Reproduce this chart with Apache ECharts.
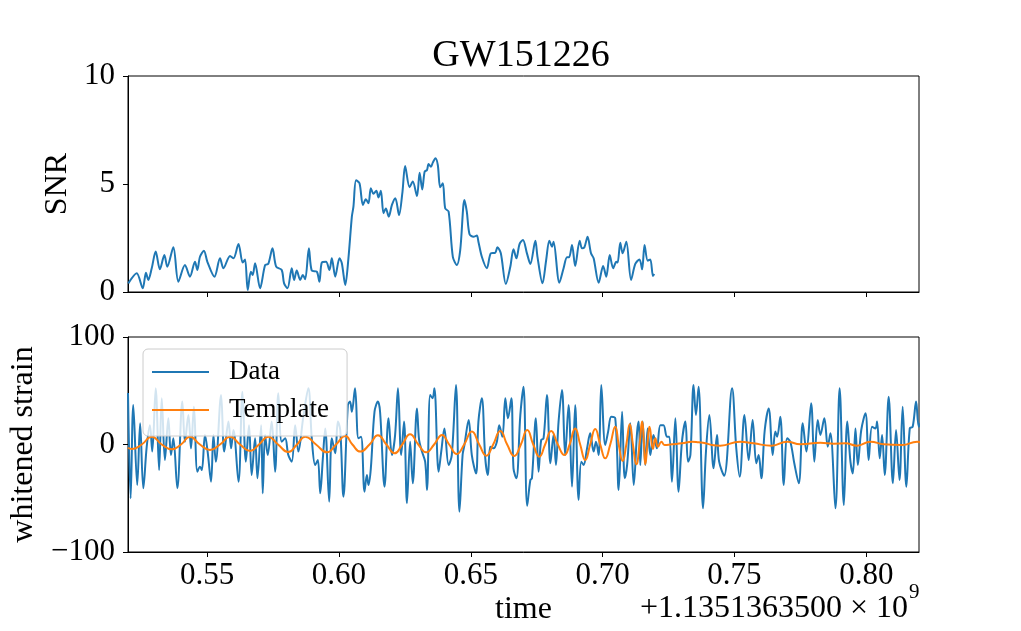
<!DOCTYPE html>
<html>
<head>
<meta charset="utf-8">
<script src="https://cdn.jsdelivr.net/npm/echarts@6/dist/echarts.min.js"></script>
<style>
html,body{margin:0;padding:0;background:#fff;}
#chart{width:1021px;height:631px;}
</style>
</head>
<body>
<div id="chart"></div>
<script>
// ---- data (time offsets in seconds, relative to +1.1351363500e9) ----
const xTicks = [0.55, 0.60, 0.65, 0.70, 0.75, 0.80];
const snrTicks = [0, 5, 10];
const strainTicks = [-100, 0, 100];

const snrTime = [0.5201,0.5233,0.5256,0.5268,0.5277,0.5290,0.5305,0.5321,0.5338,0.5349,0.5372,0.5391,0.5416,0.5435,0.5454,0.5463,0.5473,0.5488,0.5501,0.5528,0.5549,0.5562,0.5587,0.5600,0.5619,0.5635,0.5644,0.5654,0.5666,0.5673,0.5682,0.5701,0.5720,0.5732,0.5748,0.5762,0.5783,0.5792,0.5805,0.5821,0.5830,0.5840,0.5853,0.5863,0.5872,0.5886,0.5897,0.5916,0.5926,0.5935,0.5951,0.5964,0.5973,0.5986,0.6002,0.6011,0.6024,0.6036,0.6049,0.6055,0.6065,0.6078,0.6091,0.6102,0.6112,0.6121,0.6131,0.6142,0.6150,0.6159,0.6169,0.6178,0.6189,0.6201,0.6214,0.6228,0.6241,0.6251,0.6268,0.6280,0.6296,0.6306,0.6316,0.6325,0.6334,0.6340,0.6349,0.6356,0.6366,0.6375,0.6384,0.6394,0.6403,0.6416,0.6432,0.6447,0.6460,0.6476,0.6485,0.6495,0.6510,0.6523,0.6529,0.6542,0.6561,0.6576,0.6593,0.6601,0.6614,0.6633,0.6650,0.6662,0.6673,0.6685,0.6698,0.6713,0.6726,0.6745,0.6753,0.6772,0.6786,0.6798,0.6808,0.6814,0.6836,0.6852,0.6865,0.6873,0.6884,0.6896,0.6913,0.6922,0.6931,0.6943,0.6956,0.6966,0.6985,0.7002,0.7014,0.7027,0.7040,0.7052,0.7057,0.7067,0.7076,0.7090,0.7108,0.7124,0.7140,0.7150,0.7159,0.7171,0.7181,0.7191,0.7196];
const snrValue = [0.40,0.87,0.17,0.89,0.56,1.10,1.87,1.05,1.71,1.17,2.07,0.48,1.25,0.71,1.40,1.02,1.63,1.91,1.40,0.71,1.56,1.10,1.67,1.56,2.22,1.36,1.51,0.09,0.94,0.79,1.33,0.17,1.25,1.30,2.02,1.17,1.02,0.40,0.17,1.10,0.56,0.99,0.56,0.79,0.59,2.02,0.99,0.94,0.48,1.36,1.40,1.02,1.56,0.71,1.56,1.33,0.32,1.56,3.49,3.95,5.17,5.03,4.03,4.29,4.11,4.80,4.55,4.69,4.38,4.69,3.65,3.87,3.49,4.03,4.34,3.56,4.64,5.83,4.85,5.11,4.44,5.52,4.75,5.57,5.65,5.93,5.80,5.99,6.19,5.88,4.85,5.03,3.87,3.72,1.63,1.25,1.94,4.26,3.72,2.69,2.56,2.61,2.33,1.63,1.10,1.79,1.82,2.07,1.79,0.37,1.17,1.98,1.56,2.22,2.41,1.79,1.30,2.37,1.63,0.40,1.48,2.37,2.10,2.33,0.43,1.10,1.61,1.61,2.18,1.20,2.37,2.02,2.07,2.56,1.79,1.56,0.43,1.20,0.71,1.71,1.10,1.40,1.36,2.28,1.79,2.33,0.56,1.30,1.51,1.05,2.18,1.45,1.51,0.74,0.83];

const strainTime = [0.5200,0.5210,0.5220,0.5235,0.5246,0.5258,0.5271,0.5283,0.5292,0.5305,0.5318,0.5328,0.5340,0.5353,0.5363,0.5372,0.5387,0.5406,0.5416,0.5429,0.5439,0.5450,0.5463,0.5473,0.5480,0.5492,0.5502,0.5515,0.5524,0.5533,0.5553,0.5565,0.5581,0.5591,0.5600,0.5619,0.5634,0.5647,0.5659,0.5669,0.5682,0.5691,0.5705,0.5711,0.5720,0.5730,0.5745,0.5758,0.5770,0.5783,0.5796,0.5808,0.5821,0.5834,0.5846,0.5865,0.5884,0.5897,0.5910,0.5920,0.5929,0.5939,0.5948,0.5963,0.5973,0.5986,0.5996,0.6005,0.6017,0.6034,0.6042,0.6049,0.6061,0.6074,0.6084,0.6097,0.6106,0.6112,0.6121,0.6135,0.6148,0.6156,0.6173,0.6188,0.6201,0.6213,0.6224,0.6236,0.6247,0.6258,0.6270,0.6280,0.6296,0.6304,0.6315,0.6327,0.6334,0.6346,0.6355,0.6362,0.6378,0.6388,0.6400,0.6416,0.6428,0.6444,0.6457,0.6469,0.6476,0.6492,0.6504,0.6520,0.6529,0.6542,0.6555,0.6565,0.6574,0.6586,0.6599,0.6608,0.6620,0.6631,0.6641,0.6654,0.6662,0.6673,0.6688,0.6700,0.6714,0.6726,0.6732,0.6747,0.6757,0.6767,0.6776,0.6789,0.6802,0.6814,0.6823,0.6833,0.6846,0.6858,0.6871,0.6884,0.6896,0.6909,0.6919,0.6928,0.6941,0.6953,0.6966,0.6975,0.6985,0.6995,0.7010,0.7021,0.7033,0.7048,0.7061,0.7074,0.7084,0.7093,0.7105,0.7118,0.7131,0.7137,0.7143,0.7152,0.7162,0.7171,0.7181,0.7193,0.7206,0.7219,0.7231,0.7244,0.7253,0.7263,0.7276,0.7288,0.7301,0.7314,0.7324,0.7333,0.7345,0.7354,0.7364,0.7381,0.7392,0.7405,0.7421,0.7434,0.7442,0.7461,0.7491,0.7507,0.7520,0.7538,0.7554,0.7569,0.7583,0.7592,0.7602,0.7615,0.7630,0.7645,0.7655,0.7662,0.7674,0.7687,0.7700,0.7712,0.7727,0.7744,0.7759,0.7773,0.7791,0.7803,0.7816,0.7826,0.7841,0.7854,0.7864,0.7883,0.7899,0.7915,0.7928,0.7940,0.7949,0.7959,0.7968,0.7981,0.7997,0.8009,0.8022,0.8035,0.8041,0.8051,0.8060,0.8070,0.8085,0.8101,0.8113,0.8126,0.8138,0.8152,0.8165,0.8176,0.8189,0.8199,0.8206];
const strainValue = [48,-50,36.7,-37.6,19.7,-40.7,-2,18,-6.6,52.3,-23.7,43,-14.4,24.4,-9.8,5.7,-40.7,39.9,2.6,27.5,-3.6,35.2,-25.3,-20.6,-23.7,8.8,-6.6,-34.6,8.8,-16,46,-6.6,21.3,-3.6,13.5,-34.6,49.1,-16,18,-28.4,5.7,-31.5,18,-45.4,8.8,-9.8,21.3,-25.3,47.6,2.6,5.7,-9.8,-16,18,-6.6,25.9,52.3,5.7,-19,-14.4,-45.4,-12.9,15,-53.2,5.7,-8.2,21.3,13.5,-48.5,36.7,39.9,30.5,52.3,5.7,7.3,-43.9,-28.4,-37.6,-22.2,30.5,39.9,30.5,-39.2,24.4,-9.8,8.8,52.3,-9.8,21.3,-54.7,2.6,-36.1,33.6,4.2,-6.6,-16,-42.3,46,43,52.3,-25.3,-6.6,15,-19,-9.8,55.3,-62.5,-9.8,-0.5,22.8,-9.8,-26.9,21.3,43,-12.9,-28.4,-2,-3.6,2.6,18,7.3,43,24.4,43,-22.2,-31.5,27.5,53.8,-57,-33,-31.5,24.4,-25.3,4.2,5.7,46,-17.5,8.8,-19,21.3,50.7,-9.8,36.7,-39.2,36.7,-51.6,-16,-19,-3.6,10.4,-6.6,2.6,-9.8,55.3,-0.5,12,25.9,24.4,-42.3,30.5,-31.5,-19,19.7,-37.6,12,21.3,-19,21.3,-19,15,-9.8,8.8,-3.6,18,18,7.3,7.3,-34.6,24.4,-43.9,2.6,21.3,-16,-9.8,55.3,27.5,53.8,-59.4,-6.6,27.5,-22.2,8.8,-16,-29,52.3,-3.6,-30,27.5,-14.4,22.8,-17.5,-9.8,-31.5,13.5,33.6,-9.8,12,7.3,25.9,-37.6,5.7,2.6,-17.5,-36.1,19.7,-6.6,38.3,-16,22.8,8.8,24.4,-2,10.4,-59.4,52.3,-56.3,21.3,-16,-26.9,15,-19,13.5,29,-14.4,16.5,15,21.3,-12.9,8.8,-28.4,44.5,-36.1,13.5,-33,35.2,-39.2,15,16.5,39.9,16.5,20];

const templateTime = [0.5200,0.5214,0.5252,0.5290,0.5328,0.5366,0.5401,0.5435,0.5473,0.5511,0.5549,0.5587,0.5625,0.5663,0.5697,0.5732,0.5769,0.5808,0.5841,0.5872,0.5913,0.5955,0.5989,0.6024,0.6051,0.6081,0.6116,0.6148,0.6180,0.6211,0.6240,0.6270,0.6301,0.6331,0.6361,0.6391,0.6418,0.6447,0.6475,0.6504,0.6532,0.6559,0.6585,0.6612,0.6638,0.6665,0.6690,0.6714,0.6737,0.6760,0.6782,0.6805,0.6830,0.6855,0.6875,0.6896,0.6915,0.6934,0.6953,0.6972,0.6991,0.7010,0.7029,0.7048,0.7061,0.7076,0.7090,0.7103,0.7115,0.7128,0.7140,0.7150,0.7157,0.7162,0.7170,0.7178,0.7191,0.7200,0.7210,0.7223,0.7235,0.7263,0.7301,0.7339,0.7364,0.7390,0.7415,0.7446,0.7521,0.7572,0.7641,0.7700,0.7750,0.7826,0.7877,0.7921,0.7965,0.8016,0.8066,0.8136,0.8193,0.8209];
const templateValue = [-3,-4.2,0,7.3,0,-4.5,0,7.3,0,-5,0,7.3,0,-6,0,7.3,0,-7,0,7.3,0,-7.3,0,7.9,0,-6.6,0,8.5,0,-8.2,0,9.5,0,-7.3,0,8.9,0,-8.8,0,12,0,-10.4,0,12.6,0,-10.7,0,13.5,0,-11.3,0,12.6,0,-9.8,0,15,0,-14.4,0,14.4,0,-12.9,0,16.6,0,-15.3,0,18.8,0,-18.4,0,21.3,0,-18.4,0,16.6,-4.2,5.7,-2,2.6,-0.5,0.2,1.1,2.6,2,1.1,-0.5,-1.1,2.6,1.1,-1.1,2.6,0.2,1.7,0.8,1.1,-1.1,2.6,0.2,-0.5,2.6,1.7];

const zip = (a, b) => a.map((t, i) => [t, b[i]]);

const FONT = 'Liberation Serif';
const BLUE = '#1f77b4', ORANGE = '#ff7f0e';

const chart = echarts.init(document.getElementById('chart'), null, {renderer: 'canvas'});

const xAxisCommon = {
  type: 'value', min: 0.52, max: 0.82,
  axisLine: {show: true, onZero: false, lineStyle: {color: '#000', width: 1}},
  axisTick: {show: true, inside: false, length: 5, lineStyle: {color: '#000', width: 1}, customValues: xTicks},
  splitLine: {show: false}
};
const yAxisCommon = {
  type: 'value',
  axisLine: {show: true, lineStyle: {color: '#000', width: 1}},
  axisTick: {show: true, inside: false, length: 5, lineStyle: {color: '#000', width: 1}},
  splitLine: {show: false},
  nameLocation: 'middle',
  nameTextStyle: {fontFamily: FONT, fontSize: 32, color: '#000'}
};
const tickLabel = {fontFamily: FONT, fontSize: 31, color: '#000'};

chart.setOption({
  animation: false,
  backgroundColor: '#fff',
  title: {
    text: 'GW151226', left: 516, top: 32, textAlign: 'center',
    textStyle: {fontFamily: FONT, fontSize: 38, fontWeight: 'normal', color: '#000'}
  },
  grid: [
    {left: 128, top: 76, width: 791, height: 216, show: true, borderColor: '#000', borderWidth: 1, backgroundColor: 'transparent'},
    {left: 128, top: 337, width: 791, height: 215, show: true, borderColor: '#000', borderWidth: 1, backgroundColor: 'transparent'}
  ],
  xAxis: [
    Object.assign({}, xAxisCommon, {gridIndex: 0, axisLabel: {show: false}}),
    Object.assign({}, xAxisCommon, {
      gridIndex: 1,
      axisLabel: Object.assign({show: true, margin: 8, customValues: xTicks, formatter: v => v.toFixed(2)}, tickLabel),
      name: 'time', nameLocation: 'middle', nameGap: 42,
      nameTextStyle: {fontFamily: FONT, fontSize: 32, color: '#000'}
    })
  ],
  yAxis: [
    Object.assign({}, yAxisCommon, {
      gridIndex: 0, min: 0, max: 10, interval: 5,
      axisLabel: Object.assign({margin: 13, customValues: snrTicks}, tickLabel),
      name: 'SNR', nameGap: 45
    }),
    Object.assign({}, yAxisCommon, {
      gridIndex: 1, min: -100, max: 100, interval: 100,
      axisLabel: Object.assign({margin: 13, customValues: strainTicks, formatter: v => (v < 0 ? '\u2212' + Math.abs(v) : String(v))}, tickLabel),
      name: 'whitened strain', nameGap: 88
    })
  ],
  legend: {
    data: [{name: 'Data', icon: 'rect'}, {name: 'Template', icon: 'rect'}],
    orient: 'vertical',
    left: 143, top: 349,
    padding: [9, 18, 12, 9],
    itemGap: 10,
    itemWidth: 57, itemHeight: 2,
    backgroundColor: 'rgba(255,255,255,0.8)',
    borderColor: '#cccccc', borderWidth: 1, borderRadius: 5,
    textStyle: {fontFamily: FONT, fontSize: 27, color: '#000', lineHeight: 28, padding: [0, 0, 0, 15]}
  },
  series: [
    {
      name: 'SNR', type: 'line', xAxisIndex: 0, yAxisIndex: 0,
      data: zip(snrTime, snrValue), showSymbol: false, symbol: 'none',
      smooth: 0.3, lineStyle: {color: BLUE, width: 2}, itemStyle: {color: BLUE}
    },
    {
      name: 'Data', type: 'line', xAxisIndex: 1, yAxisIndex: 1,
      data: zip(strainTime, strainValue), showSymbol: false, symbol: 'none',
      smooth: 0.35, lineStyle: {color: BLUE, width: 2}, itemStyle: {color: BLUE}
    },
    {
      name: 'Template', type: 'line', xAxisIndex: 1, yAxisIndex: 1,
      data: zip(templateTime, templateValue), showSymbol: false, symbol: 'none',
      smooth: 0.5, lineStyle: {color: ORANGE, width: 2}, itemStyle: {color: ORANGE}
    }
  ],
  graphic: [
    {type: 'text', right: 113, top: 593, style: {text: '+1.1351363500 \u00d7 10', fontFamily: FONT, fontSize: 32, fill: '#000'}},
    {type: 'text', left: 909, top: 582, style: {text: '9', fontFamily: FONT, fontSize: 21, fill: '#000'}}
  ]
});
</script>
</body>
</html>
